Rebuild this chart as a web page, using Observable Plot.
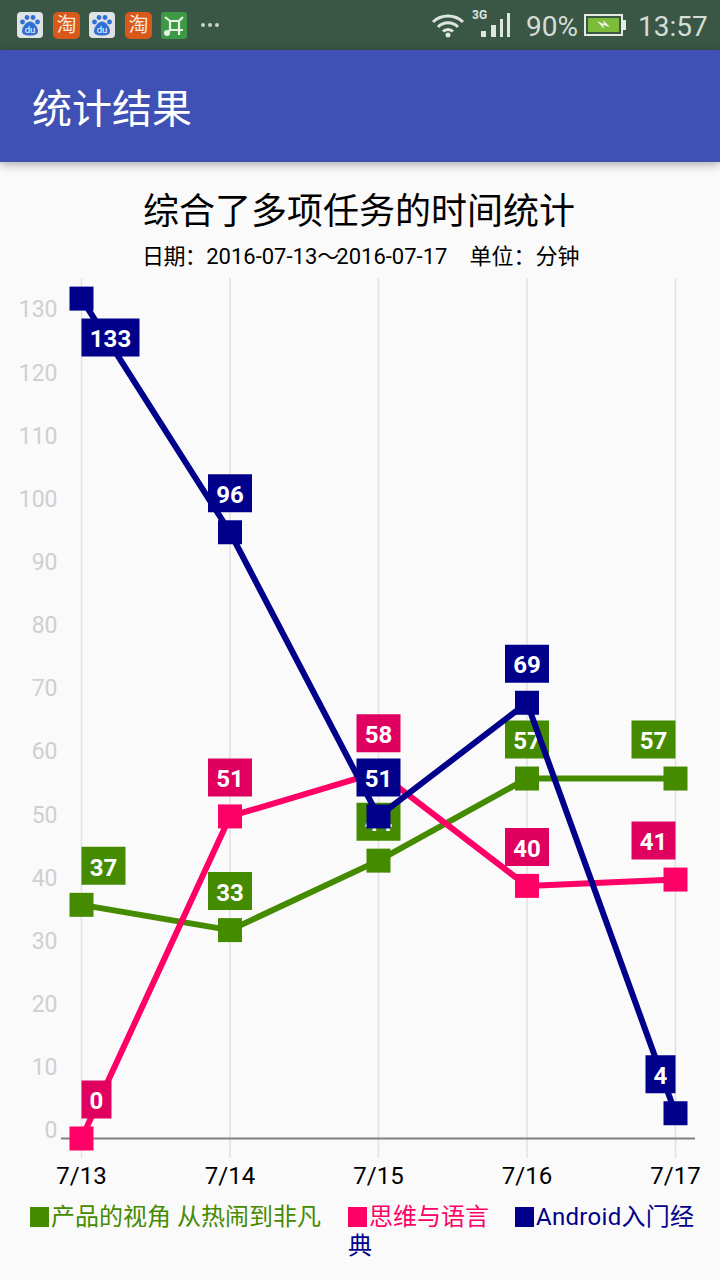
<!DOCTYPE html>
<html>
<head>
<meta charset="utf-8">
<script src="https://cdn.jsdelivr.net/npm/d3@7"></script>
<script src="https://cdn.jsdelivr.net/npm/@observablehq/plot@0.6"></script>
<style>
html,body{margin:0;padding:0;background:#fafafa;}
body{position:relative;width:720px;height:1280px;overflow:hidden;font-family:Roboto,"Noto Sans CJK SC",sans-serif;}
.abs{position:absolute;white-space:nowrap;}
#status{position:absolute;left:0;top:0;width:720px;height:50px;background:#3a5746;}
#appbar{position:absolute;left:0;top:50px;width:720px;height:112px;background:#3f51b5;box-shadow:0 2px 10px rgba(0,0,0,.35);z-index:2;}
#chart{position:absolute;left:0;top:278px;}
#chart svg{display:block;background:transparent;}
</style>
</head>
<body>
<div id="status">
<svg width="720" height="50" style="position:absolute;left:0;top:0" font-family="Roboto,'Noto Sans CJK SC',sans-serif">
  <defs>
    <g id="du">
      <rect width="26" height="26" rx="4" fill="#dfe3e6"/>
      <g fill="#2f6fd6">
        <circle cx="5.5" cy="10" r="2.4"/><circle cx="10" cy="5.5" r="2.4"/><circle cx="16" cy="5.5" r="2.4"/><circle cx="20.5" cy="10" r="2.4"/>
        <path d="M13 9.5c4 0 8 6 8 9.5s-3 4.5-8 4.5-8-1-8-4.5 4-9.5 8-9.5z"/>
      </g>
      <text x="13" y="21" font-size="9.5" fill="#fff" text-anchor="middle">du</text>
    </g>
    <g id="tao">
      <rect width="27" height="27" rx="5" fill="#d9591a"/>
      <text x="13.5" y="20" font-size="20" fill="#f6e6da" text-anchor="middle" font-family="'Noto Sans CJK SC'">淘</text>
    </g>
  </defs>
  <use href="#du" x="17" y="12"/>
  <use href="#tao" x="53" y="12"/>
  <use href="#du" x="89" y="12"/>
  <use href="#tao" x="125" y="12"/>
  <rect x="161" y="12" width="26" height="27" rx="3" fill="#3c9a45"/>
  <path d="M165 17l5 4h9l4-4M170 21v9M179 21v14M170 30h13M170 30l-3 3" stroke="#e8f3e8" stroke-width="2.2" fill="none"/>
  <circle cx="167" cy="33" r="3" fill="#e8f3e8"/>
  <g fill="#c9d3cc"><circle cx="203" cy="25" r="2"/><circle cx="210" cy="25" r="2"/><circle cx="217" cy="25" r="2"/></g>
  <g fill="none" stroke="#dfe5e0" stroke-width="3">
    <path d="M433 22a22 22 0 0 1 30 0"/><path d="M438 27a14 14 0 0 1 20 0"/><path d="M443 31.500a7 7 0 0 1 10 0"/>
  </g>
  <circle cx="448" cy="35" r="2.500" fill="#dfe5e0"/>
  <text x="472" y="19" font-size="12" font-weight="700" fill="#dfe5e0">3G</text>
  <g fill="#dfe5e0"><rect x="481" y="31" width="5" height="6"/><rect x="491" y="25" width="5" height="12"/><rect x="500" y="19" width="3" height="18"/><rect x="507" y="13" width="3" height="24"/></g>
  <text x="526" y="36" font-size="28" fill="#d5dcd6">90%</text>
  <rect x="585" y="15" width="37" height="20" fill="none" stroke="#e4eae4" stroke-width="2"/>
  <rect x="588" y="18" width="31" height="14" fill="#7dbb3a"/>
  <rect x="623" y="20" width="3" height="10" fill="#e4eae4"/>
  <path d="M597 21l7 3-1-4 7 7-7-2 1 4z" fill="#eef3e6"/>
  <text x="638" y="36" font-size="28" fill="#d5dcd6">13:57</text>
</svg>
</div>
<div id="appbar"><div class="abs" style="left:32px;top:31px;font-size:40px;line-height:50px;color:#fff;font-family:'Noto Sans CJK SC',sans-serif;">统计结果</div></div>
<div class="abs" style="left:143px;top:183px;font-size:36px;line-height:50px;color:#000;font-family:'Noto Sans CJK SC',sans-serif;">综合了多项任务的时间统计</div>
<div class="abs" style="left:142px;top:241px;font-size:22px;line-height:32px;color:#000;font-family:Roboto,'Noto Sans CJK SC',sans-serif;"><span style="letter-spacing:-.6px">日期：</span>2016-07-13<span style="letter-spacing:-5px">～</span><span style="margin-left:2px">2016-07-17</span>　单位：分钟</div>
<div id="chart"></div>
<div id="legend"></div>
<script>
const dates = ["7/13", "7/14", "7/15", "7/16", "7/17"];
const productValues = [37, 33, 44, 57, 57];
const thinkingValues = [0, 51, 58, 40, 41];
const androidValues = [133, 96, 51, 69, 4];
const yTicks = [0, 10, 20, 30, 40, 50, 60, 70, 80, 90, 100, 110, 120, 130];
const seriesNames = ["产品的视角 从热闹到非凡", "思维与语言", "Android入门经典"];
const lineColors = ["#458b00", "#ff0066", "#00008b"];
const boxColors = ["#458b00", "#e0005f", "#00008b"];

const allSeries = [productValues, thinkingValues, androidValues];
const table = allSeries.map((vals, s) => vals.map((v, i) => ({date: dates[i], value: v, index: i, series: s})));

// A fixed-pixel rectangle anchored to a data point, used behind value labels.
const box = (w, h, ox, oy) => ({
  draw(ctx) {
    ctx.moveTo(ox - w / 2, oy - h / 2);
    ctx.lineTo(ox + w / 2, oy - h / 2);
    ctx.lineTo(ox + w / 2, oy + h / 2);
    ctx.lineTo(ox - w / 2, oy + h / 2);
    ctx.closePath();
  }
});

const labelFont = {fontFamily: "Roboto", fontSize: 24, fontWeight: 700};
const seriesMarks = table.flatMap((rows, s) => [
  Plot.line(rows, {x: "date", y: "value", stroke: lineColors[s], strokeWidth: 6, curve: "linear", strokeLinejoin: "miter"}),
  Plot.dot(rows, {x: "date", y: "value", symbol: "square", r: 24 / Math.sqrt(Math.PI), fill: lineColors[s], stroke: "none"}),
  ...rows.map(d => {
    const w = 14 * String(d.value).length + 16;
    const ox = d.index === 0 ? w / 2 : d.index === dates.length - 1 ? -w / 2 : 0;
    const oy = d.value > 125 ? 39 : -39;
    return [
      Plot.dot([d], {x: "date", y: "value", symbol: box(w, 38, ox, oy), fill: boxColors[s], stroke: "none"}),
      Plot.text([d], {x: "date", y: "value", text: x => String(x.value), dx: ox, dy: oy + 2, fill: "#fff", ...labelFont})
    ];
  }).flat()
]);

const chart = Plot.plot({
  width: 720,
  height: 914,
  marginTop: 0,
  marginLeft: 61,
  marginRight: 25,
  marginBottom: 34,
  style: {background: "transparent", overflow: "visible"},
  x: {type: "point", domain: dates, range: [81, 675], padding: 0, round: false, label: null},
  y: {type: "linear", domain: [0, 133], range: [860, 20.1], label: null},
  marks: [
    Plot.ruleX(dates, {stroke: "#e2e2e2", strokeWidth: 1.5}),
    Plot.ruleY([0], {stroke: "#808080", strokeWidth: 2}),
    Plot.axisY({
      ticks: yTicks, tickSize: 0, tickPadding: 0, anchor: "left", label: null, dx: -4, dy: -7.5,
      color: "#cfcfcf", fill: "#cfcfcf", fontSize: 23, fontFamily: "Roboto", textAnchor: "end"
    }),
    Plot.axisX({
      tickSize: 0, tickPadding: 0, anchor: "bottom", label: null, dy: 8,
      fill: "#000", fontSize: 24, fontFamily: "Roboto"
    }),
    ...seriesMarks
  ]
});
document.getElementById("chart").appendChild(chart);

// Legend below the chart
const legend = document.getElementById("legend");
const legendFrags = [
  {text: seriesNames[0], left: 30, top: 1200, s: 0, swatch: true},
  {text: seriesNames[1], left: 348, top: 1200, s: 1, swatch: true},
  {text: seriesNames[2].slice(0, -1), left: 515, top: 1200, s: 2, swatch: true, spacing: 0.3},
  {text: seriesNames[2].slice(-1), left: 348, top: 1229, s: 2, swatch: false}
];
for (const f of legendFrags) {
  const el = document.createElement("div");
  el.className = "abs";
  el.style.cssText = `left:${f.left}px;top:${f.top}px;font-size:24px;line-height:34px;letter-spacing:${f.spacing || 0}px;color:${lineColors[f.s]};font-family:Roboto,'Noto Sans CJK SC',sans-serif;display:flex;align-items:center;`;
  if (f.swatch) {
    const sw = document.createElement("span");
    sw.style.cssText = `display:inline-block;width:19px;height:20px;margin-right:2px;background:${lineColors[f.s]};`;
    el.appendChild(sw);
  }
  el.appendChild(document.createTextNode(f.text));
  legend.appendChild(el);
}
</script>
</body>
</html>
